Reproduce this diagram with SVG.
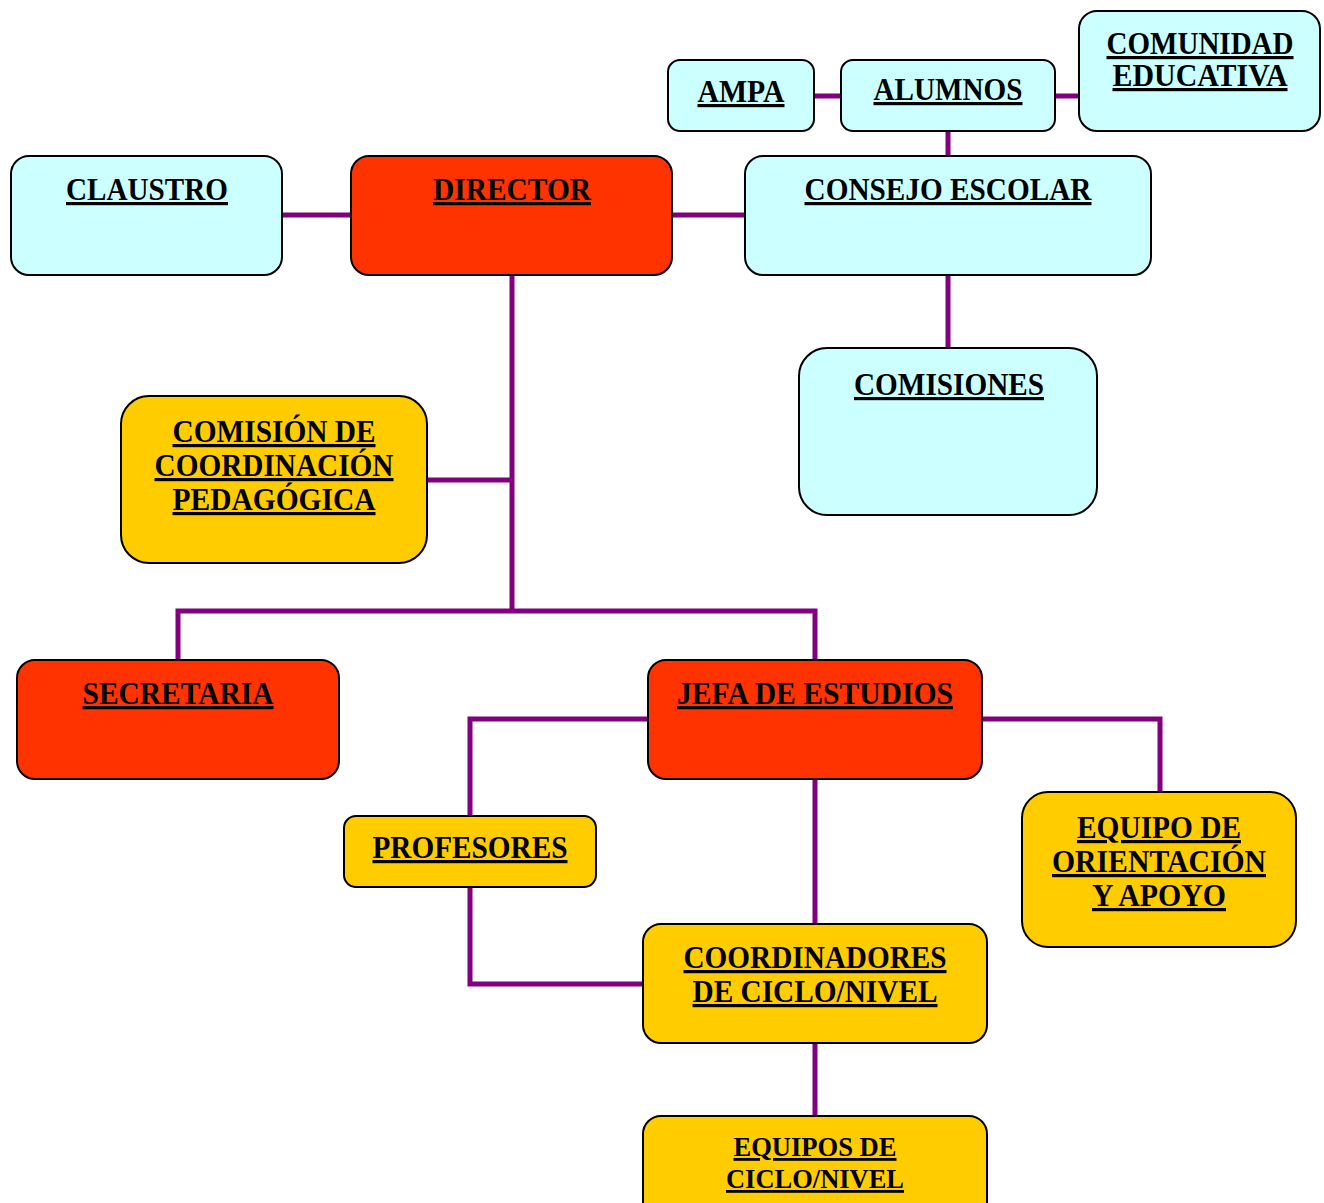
<svg xmlns="http://www.w3.org/2000/svg" width="1324" height="1203" viewBox="0 0 1324 1203">
<style>
.box{stroke:#000;stroke-width:2}
.cyan{fill:#CCFFFF}
.red{fill:#FF3300}
.yel{fill:#FFCC00}
.t{font-family:"Liberation Serif","Times New Roman",serif;font-weight:bold;font-size:32px;fill:#000;text-anchor:middle;text-decoration:underline}
.s{font-size:28px}
#connectors path{fill:none;stroke:#800080;stroke-width:5}
</style>
<rect width="1324" height="1203" fill="#fff"/>
<g id="connectors">
<path d="M814 96H841"/>
<path d="M1055 96H1079"/>
<path d="M948 131V156"/>
<path d="M282 215H351"/>
<path d="M672 215H745"/>
<path d="M948 275V348"/>
<path d="M512 275V611"/>
<path d="M427 480H512"/>
<path d="M178 660V611H815V660"/>
<path d="M648 719H470V816"/>
<path d="M470 887V984H643"/>
<path d="M982 719H1160V792"/>
<path d="M815 779V924"/>
<path d="M815 1043V1116"/>
</g>
<g id="ampa"><rect class="box cyan" x="668" y="60" width="146" height="71" rx="12"/><text class="t" x="741" y="102" textLength="87" lengthAdjust="spacingAndGlyphs">AMPA</text></g>
<g id="alumnos"><rect class="box cyan" x="841" y="60" width="214" height="71" rx="12"/><text class="t" x="948" y="100" textLength="149" lengthAdjust="spacingAndGlyphs">ALUMNOS</text></g>
<g id="comunidad"><rect class="box cyan" x="1079" y="11" width="241" height="120" rx="18"/><text class="t" x="1200" y="54" textLength="187" lengthAdjust="spacingAndGlyphs">COMUNIDAD</text><text class="t" x="1200" y="86" textLength="175" lengthAdjust="spacingAndGlyphs">EDUCATIVA</text></g>
<g id="claustro"><rect class="box cyan" x="11" y="156" width="271" height="119" rx="18"/><text class="t" x="147" y="200" textLength="162" lengthAdjust="spacingAndGlyphs">CLAUSTRO</text></g>
<g id="director"><rect class="box red" x="351" y="156" width="321" height="119" rx="18"/><text class="t" x="512" y="200" textLength="158" lengthAdjust="spacingAndGlyphs">DIRECTOR</text></g>
<g id="consejo"><rect class="box cyan" x="745" y="156" width="406" height="119" rx="18"/><text class="t" x="948" y="200" textLength="287" lengthAdjust="spacingAndGlyphs">CONSEJO ESCOLAR</text></g>
<g id="comisiones"><rect class="box cyan" x="799" y="348" width="298" height="167" rx="28"/><text class="t" x="949" y="395" textLength="190" lengthAdjust="spacingAndGlyphs">COMISIONES</text></g>
<g id="ccp"><rect class="box yel" x="121" y="396" width="306" height="167" rx="28"/><text class="t" x="274" y="442" textLength="203" lengthAdjust="spacingAndGlyphs">COMISIÓN DE</text><text class="t" x="274" y="476" textLength="239" lengthAdjust="spacingAndGlyphs">COORDINACIÓN</text><text class="t" x="274" y="510" textLength="203" lengthAdjust="spacingAndGlyphs">PEDAGÓGICA</text></g>
<g id="secretaria"><rect class="box red" x="17" y="660" width="322" height="119" rx="18"/><text class="t" x="178" y="704" textLength="191" lengthAdjust="spacingAndGlyphs">SECRETARIA</text></g>
<g id="jefa"><rect class="box red" x="648" y="660" width="334" height="119" rx="18"/><text class="t" x="815" y="704" textLength="276" lengthAdjust="spacingAndGlyphs">JEFA DE ESTUDIOS</text></g>
<g id="profesores"><rect class="box yel" x="344" y="816" width="252" height="71" rx="12"/><text class="t" x="470" y="858" textLength="195" lengthAdjust="spacingAndGlyphs">PROFESORES</text></g>
<g id="orientacion"><rect class="box yel" x="1022" y="792" width="274" height="155" rx="26"/><text class="t" x="1159" y="838" textLength="164" lengthAdjust="spacingAndGlyphs">EQUIPO DE</text><text class="t" x="1159" y="872" textLength="214" lengthAdjust="spacingAndGlyphs">ORIENTACIÓN</text><text class="t" x="1159" y="906" textLength="134" lengthAdjust="spacingAndGlyphs">Y APOYO</text></g>
<g id="coordinadores"><rect class="box yel" x="643" y="924" width="344" height="119" rx="18"/><text class="t" x="815" y="968" textLength="263" lengthAdjust="spacingAndGlyphs">COORDINADORES</text><text class="t" x="815" y="1002" textLength="245" lengthAdjust="spacingAndGlyphs">DE CICLO/NIVEL</text></g>
<g id="equipos"><rect class="box yel" x="643" y="1116" width="344" height="110" rx="18"/><text class="t s" x="815" y="1156" textLength="163" lengthAdjust="spacingAndGlyphs">EQUIPOS DE</text><text class="t s" x="815" y="1188" textLength="178" lengthAdjust="spacingAndGlyphs">CICLO/NIVEL</text></g>
</svg>
